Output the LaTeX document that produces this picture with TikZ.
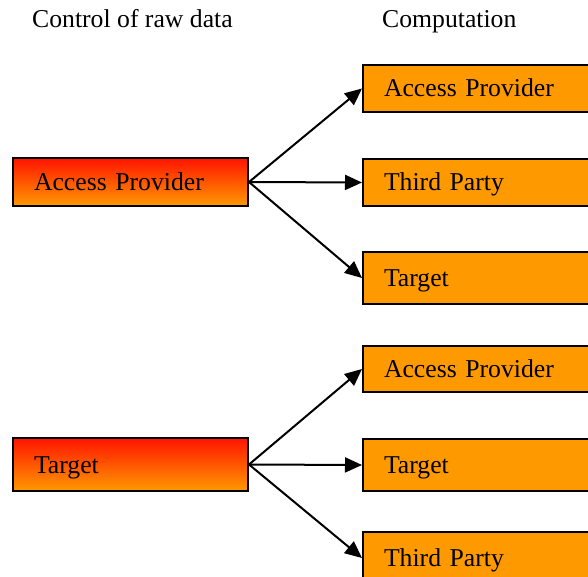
\documentclass[tikz,border=0pt]{standalone}
\usepackage{fontspec}
\setmainfont{Liberation Serif}
\usetikzlibrary{arrows.meta}
\definecolor{boxorange}{RGB}{255,153,0}
\definecolor{boxred}{RGB}{255,20,0}
\begin{document}
\begin{tikzpicture}[x=1pt,y=-1pt,
  every node/.style={font=\fontsize{25.7pt}{30pt}\selectfont},
  srcbox/.style={draw=black, line width=2pt, top color=boxred, bottom color=boxorange,
    anchor=west, inner xsep=21pt, inner ysep=0pt, text width=193pt, align=left,
    text height=17pt, text depth=0pt},
  dstbox/.style={draw=black, line width=2pt, fill=boxorange,
    anchor=west, inner xsep=21pt, inner ysep=0pt, text width=218pt, align=left,
    text height=17pt, text depth=0pt},
  head/.style={anchor=base west, inner sep=0pt},
  link/.style={line width=2pt, -{Triangle[length=17pt,width=15pt]}}
]
\clip (0,0) rectangle (588,577);
\useasboundingbox (0,0) rectangle (588,577);

\node[head] (h1) at (32,28) {Control of raw data};
\node[head] (h2) at (382,28) {Computation};

\node[srcbox, minimum height=48pt] (lap) at (12,182) {Access Provider};
\node[srcbox, minimum height=53pt] (lt) at (12,464.5) {Target};

\node[dstbox, minimum height=47pt] (ra1) at (362,88.5) {Access Provider};
\node[dstbox, minimum height=47pt] (rt1) at (362,182.5) {Third Party};
\node[dstbox, minimum height=52pt] (rg1) at (362,278) {Target};

\node[dstbox, minimum height=46pt] (ra2) at (362,369) {Access Provider};
\node[dstbox, minimum height=52pt] (rg2) at (362,465) {Target};
\node[dstbox, minimum height=52pt] (rt2) at (362,558) {Third Party};

\draw[link] (lap.east) -- (ra1.west);
\draw[link] (lap.east) -- (rt1.west);
\draw[link] (lap.east) -- (rg1.west);

\draw[link] (lt.east) -- (ra2.west);
\draw[link] (lt.east) -- (rg2.west);
\draw[link] (lt.east) -- (rt2.west);
\end{tikzpicture}
\end{document}
